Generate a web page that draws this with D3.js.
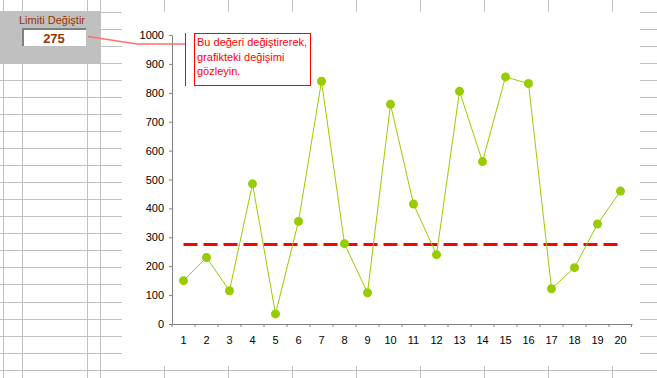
<!DOCTYPE html>
<meta charset="utf-8">

<!-- Load d3.js -->
<script src="https://d3js.org/d3.v7.min.js"></script>

<style>
  body { margin: 0; background: #fff; }
  text { font-family: "Liberation Sans", Arial, sans-serif; }
</style>

<!-- Create a div where the graph will take place -->
<div id="dataviz"></div>

<script>
// chart data
var categories = ["1","2","3","4","5","6","7","8","9","10","11","12","13","14","15","16","17","18","19","20"];
var values = [150, 230, 115, 485, 35, 355, 840, 278, 108, 760, 415, 240, 805, 562, 855, 832, 122, 195, 346, 460];
var limit = 275;
var yTicks = [0, 100, 200, 300, 400, 500, 600, 700, 800, 900, 1000];
var limitLabel = "Limiti Değiştir";
var noteLines = ["Bu değeri değiştirerek,", "grafikteki değişimi", "gözleyin."];

var width = 657, height = 378;

var svg = d3.select("#dataviz")
  .append("svg")
    .attr("width", width)
    .attr("height", height);

// spreadsheet grid behind the chart
var gridCols = [3, 22, 87, 100, 164, 228, 292, 356, 420, 484, 548, 612];
var gridRows = d3.range(0, 23).map(function(i) { return 12 + i * 17.03; });

svg.append("g")
  .selectAll("line.col")
  .data(gridCols)
  .enter().append("line")
    .attr("x1", function(d) { return d + 0.5; })
    .attr("x2", function(d) { return d + 0.5; })
    .attr("y1", 0).attr("y2", height)
    .attr("stroke", "#c0c0c0");
svg.append("g")
  .selectAll("line.row")
  .data(gridRows)
  .enter().append("line")
    .attr("x1", 0).attr("x2", width)
    .attr("y1", function(d) { return Math.round(d) + 0.5; })
    .attr("y2", function(d) { return Math.round(d) + 0.5; })
    .attr("stroke", "#c0c0c0");

// chart object covers the grid
svg.append("rect")
  .attr("x", 122).attr("y", 12)
  .attr("width", 518).attr("height", 354)
  .attr("fill", "#fff");

// scales
var x = d3.scaleBand()
  .domain(categories)
  .range([172, 632]);
var y = d3.scaleLinear()
  .domain([0, 1000])
  .range([324, 35]);

// Y axis
var yAxis = svg.append("g")
  .attr("transform", "translate(172,0)")
  .call(d3.axisLeft(y).tickValues(yTicks).tickFormat(d3.format("d"))
    .tickSize(3).tickSizeOuter(0).tickPadding(5));
yAxis.select(".domain").attr("stroke", "#808080");
yAxis.selectAll(".tick line").attr("stroke", "#808080");
yAxis.selectAll("text").attr("font-size", 11).attr("fill", "#000")
  .style("font-family", "'Liberation Sans', Arial, sans-serif");

// X axis, ticks between categories
var xAxis = svg.append("g")
  .attr("transform", "translate(0,324)")
  .call(d3.axisBottom(x).tickSize(3).tickSizeOuter(0));
xAxis.select(".domain").attr("stroke", "#808080");
xAxis.selectAll(".tick line")
  .attr("x1", -x.bandwidth() / 2).attr("x2", -x.bandwidth() / 2)
  .attr("stroke", "#808080");
xAxis.append("line")
  .attr("x1", x.range()[1] - 0.5).attr("x2", x.range()[1] - 0.5)
  .attr("y1", 0).attr("y2", 3)
  .attr("stroke", "#808080");
xAxis.selectAll("text")
  .attr("y", 20).attr("dy", 0)
  .attr("font-size", 11).attr("fill", "#000")
  .style("font-family", "'Liberation Sans', Arial, sans-serif");

function cx(d, i) { return x(categories[i]) + x.bandwidth() / 2; }

// limit line
svg.append("line")
  .attr("x1", x(categories[0]) + x.bandwidth() / 2)
  .attr("x2", x(categories[categories.length - 1]) + x.bandwidth() / 2)
  .attr("y1", y(limit)).attr("y2", y(limit))
  .attr("stroke", "#ff0000")
  .attr("stroke-width", 3)
  .attr("stroke-dasharray", "14,6");

// series line + markers
svg.append("path")
  .datum(values)
  .attr("d", d3.line().x(cx).y(function(d) { return y(d); }))
  .attr("fill", "none")
  .attr("stroke", "#99cc00")
  .attr("stroke-width", 1);
svg.append("g")
  .selectAll("circle")
  .data(values)
  .enter().append("circle")
    .attr("cx", cx)
    .attr("cy", function(d) { return y(d); })
    .attr("r", 4.5)
    .attr("fill", "#99cc00");

// control box on the left
svg.append("rect")
  .attr("x", 0).attr("y", 11)
  .attr("width", 100).attr("height", 52)
  .attr("fill", "#c0c0c0");
svg.append("text")
  .attr("x", 52).attr("y", 24)
  .attr("text-anchor", "middle")
  .attr("font-size", 11)
  .attr("fill", "#993300")
  .text(limitLabel);
svg.append("rect")
  .attr("x", 22).attr("y", 28)
  .attr("width", 64).attr("height", 18)
  .attr("fill", "#fff");
svg.append("path")
  .attr("d", "M23,46V29H86")
  .attr("fill", "none")
  .attr("stroke", "#808080")
  .attr("stroke-width", 2);
svg.append("text")
  .attr("x", 54).attr("y", 43)
  .attr("text-anchor", "middle")
  .attr("font-size", 13)
  .attr("font-weight", "bold")
  .attr("fill", "#993300")
  .text(limit);

// callout
svg.append("path")
  .attr("d", "M88,36.5L137,44L185,44")
  .attr("fill", "none")
  .attr("stroke", "#ff7070")
  .attr("stroke-width", 1.5);
svg.append("line")
  .attr("x1", 185.5).attr("x2", 185.5)
  .attr("y1", 33).attr("y2", 86)
  .attr("stroke", "#ff0000");
svg.append("rect")
  .attr("x", 194.5).attr("y", 33.5)
  .attr("width", 116).attr("height", 52)
  .attr("fill", "#fff")
  .attr("stroke", "#ff0000");
svg.append("g")
  .selectAll("text")
  .data(noteLines)
  .enter().append("text")
    .attr("x", 197)
    .attr("y", function(d, i) { return 46 + i * 14.5; })
    .attr("font-size", 11)
    .attr("fill", "#ff0000")
    .text(function(d) { return d; });
</script>

</html>
